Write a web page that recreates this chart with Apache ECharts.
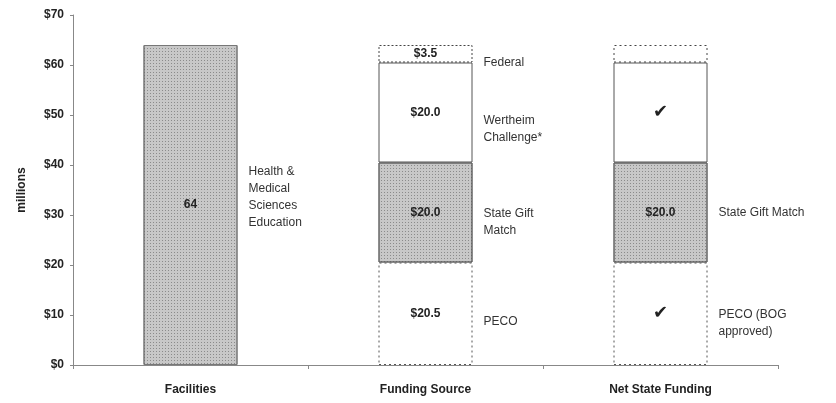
<!DOCTYPE html>
<html>
<head>
<meta charset="utf-8">
<script src="https://cdn.jsdelivr.net/npm/echarts@6/dist/echarts.min.js"></script>
<style>
  html, body { margin: 0; padding: 0; background: #fff; }
  #main { width: 836px; height: 403px; }
</style>
</head>
<body>
<div id="main"></div>
<script>
// data (millions)
const categories = ['Facilities', 'Funding Source', 'Net State Funding']
const facilities = [64, '-', '-']
const peco = ['-', 20.5, 20.5]
const giftMatch = ['-', 20.0, 20.0]
const wertheim = ['-', 20.0, 20.0]
const federal = ['-', 3.5, 3.5]

// text inside the bars
const facilitiesText = ['64', '', '']
const pecoText = ['', '$20.5', '\u2714']
const giftText = ['', '$20.0', '$20.0']
const wertheimText = ['', '$20.0', '\u2714']
const federalText = ['', '$3.5', '']

// text to the right of the bars
const facilitiesSide = ['Health &\nMedical\nSciences\nEducation', '', '']
const pecoSide = ['', 'PECO', 'PECO (BOG\napproved)']
const giftSide = ['', 'State Gift\nMatch', 'State Gift Match']
const wertheimSide = ['', 'Wertheim\nChallenge*', '']
const federalSide = ['', 'Federal', '']

const font = 'Liberation Sans, Arial, sans-serif'
const gray = '#c8c8c8'
// stipple look of the grey blocks
const stipple = {
  symbol: 'rect',
  symbolSize: 1,
  dashArrayX: [1, 2],
  dashArrayY: [1, 2],
  color: 'rgba(0,0,0,0.3)'
}

// styles of each segment per category
const styles = {
  facilities: [{color: gray, borderColor: '#777', borderWidth: 1, decal: stipple}, null, null],
  peco: [null,
    {color: '#fff', borderColor: '#555', borderWidth: 1, borderType: [2, 3]},
    {color: '#fff', borderColor: '#555', borderWidth: 1, borderType: [2, 3]}],
  gift: [null,
    {color: gray, borderColor: '#666', borderWidth: 1, decal: stipple},
    {color: gray, borderColor: '#666', borderWidth: 1, decal: stipple}],
  wertheim: [null,
    {color: '#fff', borderColor: '#555', borderWidth: 1},
    {color: '#fff', borderColor: '#555', borderWidth: 1}],
  federal: [null,
    {color: '#fff', borderColor: '#444', borderWidth: 1, borderType: [2, 2]},
    {color: '#fff', borderColor: '#444', borderWidth: 1, borderType: [2, 3]}]
}

// vertical shift of the side labels
const sideShift = {
  facilities: [-8, 0, 0],
  peco: [0, 8, 9],
  gift: [0, 10, 0],
  wertheim: [0, 17, 0],
  federal: [0, 9, 0]
}

function barSeries(key, values, texts) {
  return {
    name: key,
    type: 'bar',
    stack: 'main',
    barWidth: '40%',
    barGap: '-100%',
    silent: true,
    data: values.map((v, i) => ({
      value: v,
      itemStyle: styles[key][i] || {},
      label: {
        show: !!texts[i],
        position: 'inside',
        formatter: texts[i],
        fontFamily: texts[i] === '\u2714' ? 'DejaVu Sans' : font,
        fontWeight: 'bold',
        fontSize: texts[i] === '\u2714' ? 18 : 12,
        color: '#222'
      }
    }))
  }
}

function sideSeries(key, values, texts) {
  return {
    name: key + '-side',
    type: 'bar',
    stack: 'side',
    barWidth: '40%',
    barGap: '-100%',
    silent: true,
    itemStyle: {color: 'transparent'},
    data: values.map((v, i) => ({
      value: v,
      label: {
        show: !!texts[i],
        position: 'right',
        distance: 11,
        offset: [0, sideShift[key][i]],
        formatter: texts[i],
        fontFamily: font,
        fontSize: 12,
        lineHeight: 17,
        align: 'left',
        color: '#333'
      }
    }))
  }
}

let chart = echarts.init(document.getElementById('main'))
let option = {
  animation: false,
  grid: {left: 73, right: 58, top: 15, bottom: 38},
  xAxis: {
    type: 'category',
    data: categories,
    axisLine: {lineStyle: {color: '#888'}},
    axisTick: {show: true, length: 4, lineStyle: {color: '#888'}},
    axisLabel: {margin: 19, fontFamily: font, fontWeight: 'bold', fontSize: 12, color: '#222'}
  },
  yAxis: {
    type: 'value',
    min: 0,
    max: 70,
    interval: 10,
    name: 'millions',
    nameLocation: 'middle',
    nameGap: 45,
    nameTextStyle: {fontFamily: font, fontWeight: 'bold', fontSize: 12, color: '#222'},
    splitLine: {show: false},
    axisLine: {show: true, lineStyle: {color: '#888'}},
    axisTick: {show: true, length: 3, lineStyle: {color: '#888'}},
    axisLabel: {
      margin: 9,
      fontFamily: font,
      fontWeight: 'bold',
      fontSize: 12,
      color: '#222',
      formatter: v => '$' + v
    }
  },
  series: [
    barSeries('facilities', facilities, facilitiesText),
    barSeries('peco', peco, pecoText),
    barSeries('gift', giftMatch, giftText),
    barSeries('wertheim', wertheim, wertheimText),
    barSeries('federal', federal, federalText),
    sideSeries('facilities', facilities, facilitiesSide),
    sideSeries('peco', peco, pecoSide),
    sideSeries('gift', giftMatch, giftSide),
    sideSeries('wertheim', wertheim, wertheimSide),
    sideSeries('federal', federal, federalSide)
  ]
}
chart.setOption(option)
</script>
</body>
</html>
